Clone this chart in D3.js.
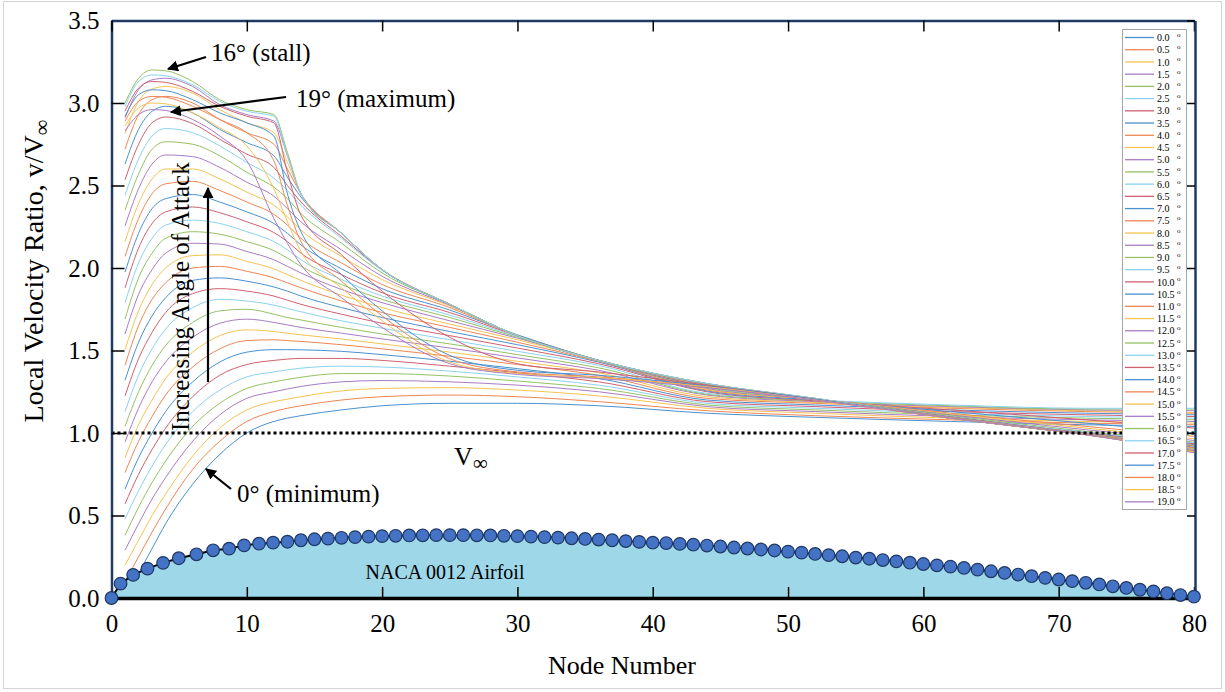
<!DOCTYPE html>
<html>
<head>
<meta charset="utf-8">
<script src="https://cdn.jsdelivr.net/npm/d3@7"></script>
<style>
  body { margin: 0; background: #fff; }
  svg { display: block; }
  text { font-family: "Liberation Serif", "Times New Roman", serif; fill: #000; }
</style>
</head>
<body>
<div id="plot"></div>
<script>
// angles of attack (deg) for each curve
const angles = [0, 0.5, 1, 1.5, 2, 2.5, 3, 3.5, 4, 4.5, 5, 5.5, 6, 6.5, 7, 7.5, 8, 8.5, 9, 9.5,
  10, 10.5, 11, 11.5, 12, 12.5, 13, 13.5, 14, 14.5, 15, 15.5, 16, 16.5, 17, 17.5, 18, 18.5, 19];

const nodes = [1, 2, 3, 4, 6, 8, 10, 12, 13, 14, 17, 20, 25, 30, 36, 44, 52, 62, 72, 80];

// v/Vinf, one row per angle (same order as angles)
const velocity = [
  [0.01,0.15,0.30,0.45,0.69,0.87,1.00,1.07,1.09,1.105,1.14,1.165,1.18,1.18,1.165,1.12,1.095,1.07,1.05,1.04],
  [0.10,0.25,0.40,0.54,0.78,0.95,1.07,1.13,1.15,1.165,1.20,1.22,1.23,1.22,1.19,1.135,1.105,1.08,1.06,1.05],
  [0.20,0.35,0.50,0.63,0.86,1.03,1.14,1.19,1.205,1.22,1.255,1.27,1.275,1.26,1.225,1.15,1.12,1.09,1.07,1.06],
  [0.29,0.45,0.60,0.73,0.95,1.11,1.21,1.25,1.267,1.282,1.31,1.318,1.31,1.29,1.25,1.16,1.13,1.10,1.08,1.07],
  [0.38,0.55,0.70,0.83,1.04,1.18,1.27,1.31,1.325,1.338,1.36,1.36,1.345,1.315,1.27,1.17,1.14,1.11,1.09,1.08],
  [0.48,0.65,0.80,0.93,1.13,1.26,1.34,1.37,1.383,1.393,1.405,1.40,1.375,1.34,1.29,1.18,1.15,1.12,1.10,1.09],
  [0.57,0.75,0.90,1.03,1.22,1.35,1.415,1.44,1.448,1.452,1.452,1.44,1.405,1.365,1.31,1.19,1.16,1.13,1.11,1.10],
  [0.66,0.85,1.00,1.13,1.31,1.43,1.49,1.505,1.505,1.504,1.495,1.475,1.435,1.39,1.33,1.20,1.17,1.14,1.12,1.11],
  [0.76,0.95,1.10,1.23,1.40,1.51,1.56,1.565,1.56,1.555,1.535,1.51,1.465,1.415,1.35,1.21,1.18,1.15,1.13,1.12],
  [0.85,1.05,1.20,1.33,1.49,1.59,1.625,1.615,1.605,1.595,1.57,1.54,1.49,1.435,1.365,1.22,1.185,1.155,1.135,1.125],
  [0.945,1.15,1.31,1.43,1.58,1.665,1.69,1.67,1.655,1.64,1.605,1.57,1.515,1.455,1.38,1.23,1.19,1.16,1.14,1.135],
  [1.04,1.25,1.41,1.53,1.67,1.74,1.75,1.72,1.70,1.685,1.64,1.60,1.54,1.475,1.395,1.235,1.195,1.165,1.145,1.145],
  [1.13,1.35,1.51,1.63,1.76,1.81,1.80,1.775,1.755,1.735,1.68,1.635,1.565,1.495,1.41,1.24,1.20,1.17,1.15,1.15],
  [1.225,1.45,1.61,1.73,1.845,1.875,1.86,1.83,1.805,1.78,1.72,1.665,1.59,1.515,1.42,1.25,1.195,1.14,1.08,1.03],
  [1.32,1.55,1.71,1.82,1.925,1.94,1.92,1.885,1.86,1.83,1.76,1.70,1.615,1.535,1.43,1.255,1.20,1.13,1.06,1.00],
  [1.41,1.65,1.81,1.91,2.00,2.01,1.98,1.94,1.91,1.88,1.80,1.73,1.64,1.55,1.435,1.26,1.205,1.12,1.04,0.98],
  [1.505,1.74,1.90,2.00,2.075,2.08,2.04,1.995,1.96,1.925,1.835,1.76,1.66,1.565,1.44,1.265,1.205,1.115,1.03,0.965],
  [1.60,1.84,1.99,2.09,2.15,2.145,2.10,2.05,2.01,1.97,1.87,1.79,1.68,1.575,1.44,1.27,1.205,1.11,1.02,0.955],
  [1.69,1.94,2.09,2.18,2.22,2.205,2.16,2.105,2.06,2.01,1.90,1.81,1.70,1.58,1.44,1.275,1.205,1.105,1.01,0.945],
  [1.79,2.03,2.18,2.26,2.29,2.27,2.22,2.16,2.11,2.05,1.93,1.83,1.715,1.585,1.44,1.28,1.205,1.10,1.005,0.94],
  [1.88,2.12,2.27,2.34,2.37,2.335,2.28,2.215,2.16,2.09,1.96,1.85,1.73,1.59,1.44,1.283,1.205,1.098,1.00,0.935],
  [1.975,2.21,2.36,2.42,2.445,2.40,2.34,2.27,2.21,2.14,1.995,1.875,1.745,1.595,1.44,1.286,1.205,1.096,0.998,0.93],
  [2.07,2.30,2.45,2.51,2.525,2.47,2.40,2.325,2.26,2.18,2.03,1.90,1.76,1.59,1.44,1.288,1.205,1.094,0.996,0.925],
  [2.16,2.39,2.54,2.60,2.60,2.54,2.46,2.38,2.31,2.23,2.07,1.93,1.77,1.59,1.44,1.29,1.205,1.093,0.995,0.922],
  [2.255,2.48,2.63,2.685,2.675,2.61,2.52,2.435,2.36,2.28,2.11,1.95,1.775,1.59,1.44,1.292,1.206,1.092,0.994,0.92],
  [2.35,2.57,2.72,2.765,2.75,2.68,2.58,2.49,2.42,2.33,2.15,1.97,1.78,1.59,1.44,1.294,1.206,1.091,0.993,0.917],
  [2.44,2.66,2.80,2.845,2.82,2.74,2.64,2.545,2.47,2.38,2.18,1.985,1.78,1.59,1.44,1.295,1.207,1.091,0.992,0.914],
  [2.535,2.75,2.88,2.915,2.875,2.78,2.69,2.61,2.50,2.40,2.19,1.99,1.78,1.59,1.44,1.296,1.207,1.091,0.992,0.912],
  [2.63,2.84,2.95,2.98,2.94,2.84,2.76,2.68,2.55,2.43,2.21,1.99,1.78,1.59,1.44,1.297,1.208,1.09,0.991,0.91],
  [2.72,2.93,3.02,3.04,3.00,2.90,2.82,2.75,2.60,2.45,2.21,1.99,1.78,1.59,1.44,1.298,1.208,1.09,0.991,0.908],
  [2.815,3.01,3.085,3.10,3.06,2.96,2.88,2.82,2.64,2.45,2.21,1.99,1.78,1.59,1.44,1.299,1.209,1.09,0.99,0.905],
  [2.91,3.08,3.14,3.15,3.10,2.99,2.93,2.89,2.68,2.45,2.21,1.99,1.78,1.59,1.44,1.30,1.21,1.09,0.99,0.90],
  [3.00,3.15,3.20,3.195,3.13,3.02,2.96,2.93,2.70,2.45,2.21,1.99,1.78,1.59,1.44,1.30,1.21,1.09,0.99,0.895],
  [2.98,3.13,3.17,3.165,3.11,3.01,2.95,2.92,2.68,2.45,2.21,1.99,1.78,1.59,1.44,1.30,1.21,1.09,0.99,0.89],
  [2.95,3.09,3.13,3.125,3.07,2.98,2.92,2.88,2.58,2.32,2.08,1.86,1.58,1.42,1.37,1.29,1.205,1.09,0.99,0.89],
  [2.92,3.05,3.08,3.075,3.02,2.94,2.88,2.80,2.45,2.22,1.96,1.74,1.47,1.38,1.35,1.285,1.205,1.09,0.99,0.89],
  [2.89,3.01,3.04,3.035,2.98,2.90,2.82,2.65,2.38,2.16,1.92,1.71,1.45,1.37,1.34,1.28,1.20,1.09,0.99,0.89],
  [2.86,2.97,3.00,2.995,2.94,2.85,2.74,2.48,2.28,2.10,1.88,1.68,1.43,1.36,1.335,1.28,1.20,1.09,0.99,0.885],
  [2.83,2.93,2.96,2.955,2.90,2.80,2.65,2.30,2.15,2.02,1.82,1.64,1.42,1.355,1.33,1.275,1.20,1.09,0.99,0.88]
];

// NACA 0012 upper surface drawn along the bottom (x in node units, y in plot units)
const foilX = [0,0.67,1.6,2.66,3.81,4.97,6.28,7.51,8.69,9.8,10.9,11.94,13,14,15,16,17,18,19,20,
  21,22,23,24,25,26,27,28,29,30,31,32,33,34,35,36,37,38,39,40,41,42,43,44,45,46,47,48,49,50,
  51,52,53,54,55,56,57,58,59,60,61,62,63,64,65,66,67,68,69,70,71,72,73,74,75,76,77,78,79,80];
const foilY = [0,0.087,0.14,0.178,0.213,0.241,0.265,0.289,0.299,0.319,0.329,0.335,0.341,0.35,0.356,0.36,0.365,0.369,0.372,0.375,
  0.377,0.379,0.38,0.381,0.381,0.381,0.38,0.379,0.377,0.375,0.372,0.369,0.366,0.362,0.358,0.354,0.35,0.345,0.34,0.335,
  0.333,0.328,0.323,0.318,0.312,0.306,0.30,0.294,0.288,0.281,0.275,0.267,0.26,0.253,0.245,0.238,0.23,0.222,0.214,0.206,
  0.198,0.19,0.182,0.172,0.162,0.152,0.142,0.132,0.122,0.112,0.102,0.092,0.082,0.071,0.061,0.05,0.04,0.029,0.018,0.008,0];

const xTicks = [0, 10, 20, 30, 40, 50, 60, 70, 80];
const yTicks = [0, 0.5, 1.0, 1.5, 2.0, 2.5, 3.0, 3.5];
const palette = ["#4a90d0", "#ee8654", "#f5c352", "#a97cc4", "#94c262", "#8bd2f0", "#cf6070"];

const W = 1225, H = 692;
const svg = d3.select("#plot").append("svg").attr("width", W).attr("height", H);

const x = d3.scaleLinear().domain([0, 80]).range([111.5, 1194]);
const y = d3.scaleLinear().domain([0, 3.5]).range([598, 20.5]);

// outer frame of the picture
svg.append("rect").attr("x", 3.5).attr("y", 1.5).attr("width", 1218).attr("height", 687)
  .attr("fill", "none").attr("stroke", "#d4d4d4");

svg.append("defs").append("marker")
  .attr("id", "arrow").attr("viewBox", "0 0 10 10").attr("refX", 9).attr("refY", 5)
  .attr("markerWidth", 5).attr("markerHeight", 5).attr("markerUnits", "strokeWidth")
  .attr("orient", "auto")
  .append("path").attr("d", "M0,0L10,5L0,10z").attr("fill", "#000");

// velocity curves
const line = d3.line().x(d => x(d[0])).y(d => y(d[1])).curve(d3.curveMonotoneX);
svg.append("g").selectAll("path")
  .data(velocity)
  .join("path")
  .attr("fill", "none")
  .attr("stroke", (d, i) => palette[i % 7])
  .attr("stroke-width", 1)
  .attr("d", row => line(row.map((v, j) => [nodes[j], v])));

// free stream reference
svg.append("line")
  .attr("x1", x(0)).attr("x2", x(80)).attr("y1", y(1)).attr("y2", y(1))
  .attr("stroke", "#000").attr("stroke-width", 3).attr("stroke-dasharray", "3,3");

// airfoil
const foil = foilX.map((v, i) => [v, foilY[i]]);
svg.append("path")
  .datum(foil)
  .attr("fill", "#9dd7e8")
  .attr("d", d3.area().x(d => x(d[0])).y0(y(0)).y1(d => y(d[1])));
svg.append("path")
  .datum(foil)
  .attr("fill", "none").attr("stroke", "#000").attr("stroke-width", 2)
  .attr("d", d3.line().x(d => x(d[0])).y(d => y(d[1])));

// axes (ticks point inwards)
const xAxis = svg.append("g").attr("transform", `translate(0,${y(0)})`)
  .call(d3.axisBottom(x).tickValues(xTicks).tickSize(-11).tickSizeOuter(0).tickPadding(16));
const yAxis = svg.append("g").attr("transform", `translate(${x(0)},0)`)
  .call(d3.axisLeft(y).tickValues(yTicks).tickFormat(d3.format(".1f")).tickSize(-13).tickSizeOuter(0).tickPadding(12));
const xTop = svg.append("g").attr("transform", `translate(0,${y(3.5)})`)
  .call(d3.axisTop(x).tickValues(xTicks).tickSize(-11).tickSizeOuter(0).tickFormat(""));
const yRight = svg.append("g").attr("transform", `translate(${x(80) + 1},0)`)
  .call(d3.axisRight(y).tickValues(yTicks).tickSize(-8).tickSizeOuter(0).tickFormat(""));

[xAxis, yAxis, xTop, yRight].forEach(g => {
  g.selectAll("text").attr("font-size", 25).attr("font-family", "Liberation Serif").attr("fill", "#000");
  g.selectAll(".tick line").attr("stroke", "#000").attr("stroke-width", 1.5);
});
yAxis.select(".domain").attr("stroke", "#1f3a63").attr("stroke-width", 2.5);
xTop.select(".domain").attr("stroke", "#1f3a63").attr("stroke-width", 2.5);
yRight.select(".domain").attr("stroke", "#1f3a63").attr("stroke-width", 2.5);
xAxis.select(".domain").attr("stroke", "#000").attr("stroke-width", 3.5);

// airfoil nodes
svg.append("g").selectAll("circle")
  .data(foil)
  .join("circle")
  .attr("cx", d => x(d[0])).attr("cy", d => y(d[1])).attr("r", 6.3)
  .attr("fill", "#4472c4").attr("stroke", "#1f3864").attr("stroke-width", 1.2);

// axis titles
svg.append("text").attr("x", 622).attr("y", 674).attr("text-anchor", "middle")
  .attr("font-size", 26).text("Node Number");
const yt = svg.append("text").attr("transform", "translate(43,271) rotate(-90)")
  .attr("text-anchor", "middle").attr("font-size", 28);
yt.append("tspan").text("Local Velocity Ratio, v/V");
yt.append("tspan").attr("font-size", 22).attr("dy", 6).text("\u221e");

// annotations
function arrow(x1, y1, x2, y2) {
  svg.append("line").attr("x1", x1).attr("y1", y1).attr("x2", x2).attr("y2", y2)
    .attr("stroke", "#000").attr("stroke-width", 2.2).attr("marker-end", "url(#arrow)");
}
svg.append("text").attr("x", 211).attr("y", 61).attr("font-size", 25).text("16\u00b0 (stall)");
arrow(206, 57, 168, 69);
svg.append("text").attr("x", 296).attr("y", 107).attr("font-size", 25).text("19\u00b0 (maximum)");
arrow(286, 97, 171, 112);
svg.append("text").attr("transform", "translate(189,431) rotate(-90)").attr("font-size", 25)
  .text("Increasing Angle of Attack");
arrow(208, 382, 208, 188);
const vinf = svg.append("text").attr("x", 454).attr("y", 465).attr("font-size", 26);
vinf.append("tspan").text("V");
vinf.append("tspan").attr("font-size", 21).attr("dy", 5).text("\u221e");
svg.append("text").attr("x", 237).attr("y", 502).attr("font-size", 25).text("0\u00b0 (minimum)");
arrow(231, 489, 206, 469);
svg.append("text").attr("x", 445).attr("y", 579).attr("text-anchor", "middle").attr("font-size", 20)
  .text("NACA 0012 Airfoil");

// legend
const lg = svg.append("g");
lg.append("rect").attr("x", 1122.5).attr("y", 29.5).attr("width", 64).attr("height", 480)
  .attr("fill", "#fff").attr("stroke", "#a6a6a6");
const rowH = 12.22;
angles.forEach((a, i) => {
  const cy = 37.5 + i * rowH;
  lg.append("line").attr("x1", 1125).attr("x2", 1154).attr("y1", cy).attr("y2", cy)
    .attr("stroke", palette[i % 7]).attr("stroke-width", 1.3);
  lg.append("text").attr("x", 1157).attr("y", cy + 3.6)
    .attr("font-family", "Liberation Sans").attr("font-size", 10).attr("fill", "#404040")
    .text(a.toFixed(1));
  lg.append("text").attr("x", 1177).attr("y", cy - 0.5)
    .attr("font-family", "Liberation Sans").attr("font-size", 7).attr("fill", "#404040").text("o");
});
</script>
</body>
</html>
